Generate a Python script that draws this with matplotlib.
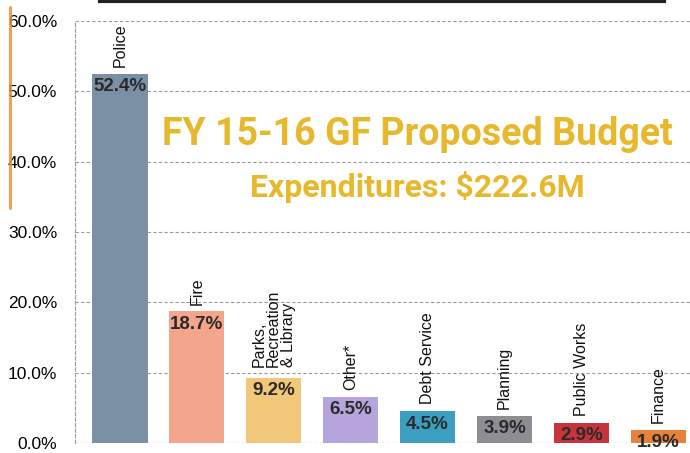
import matplotlib
matplotlib.use("Agg")
import matplotlib.pyplot as plt
from matplotlib.ticker import FuncFormatter

categories = ["Police", "Fire", "Parks,\nRecreation\n& Library", "Other*", "Debt Service",
              "Planning", "Public Works", "Finance"]
values = [52.4, 18.7, 9.2, 6.5, 4.5, 3.9, 2.9, 1.9]
colors = ["#7b8fa5", "#f3a68c", "#f1c87a", "#b5a5dc", "#3c9fbf", "#8e8d94", "#c8343c", "#e7813b"]
yticks = [0, 10, 20, 30, 40, 50, 60]
title = "FY 15-16 GF Proposed Budget"
subtitle = "Expenditures: $222.6M"

plt.rcParams["font.family"] = ["Liberation Sans", "DejaVu Sans"]

fig = plt.figure(figsize=(6.9, 4.53), dpi=100)
ax = fig.add_axes([0.109, 0.022, 0.891, 0.932])

x = range(len(categories))
bars = ax.bar(x, values, width=0.72, color=colors, zorder=3)

ax.set_ylim(0, 60)
ax.set_xlim(-0.58, 7.41)
ax.set_yticks(yticks)
ax.yaxis.set_major_formatter(FuncFormatter(lambda v, p: f"{v:.1f}%"))
ax.tick_params(axis="y", length=0, pad=13, labelsize=12.5)
ax.tick_params(axis="x", length=0, labelbottom=False)
ax.grid(axis="y", color="#9a9a9a", linestyle=(0, (3, 2)), linewidth=0.8, zorder=0)
for s in ["top", "right", "bottom"]:
    ax.spines[s].set_visible(False)
ax.spines["left"].set_linestyle((0, (3, 2)))
ax.spines["left"].set_color("#9a9a9a")
ax.spines["left"].set_linewidth(0.8)
ax.axhline(0, color="#9a9a9a", linestyle=(0, (3, 2)), linewidth=0.8, zorder=2)

for i, (v, b) in enumerate(zip(values, bars)):
    multi = "\n" in categories[i]
    ax.annotate(categories[i], (i, v), xytext=(0, 8 if multi else 5), textcoords="offset points",
                rotation=90, ha="center", va="bottom", fontsize=11.5,
                multialignment="left", color="#111111", linespacing=0.95)
    ax.annotate(f"{v:.1f}%", (i, v), xytext=(0, -3), textcoords="offset points",
                ha="center", va="top", fontsize=13.5, fontweight="bold", color="#2a2a2a",
                zorder=4)

fig.text(0.605, 0.702, title, ha="center", va="center", fontsize=27,
         fontweight="bold", color="#e8b82c", family=["Roboto", "DejaVu Sans"])
fig.text(0.605, 0.587, subtitle, ha="center", va="center", fontsize=23,
         fontweight="bold", color="#e8b82c", family=["Roboto", "DejaVu Sans"])

fig.add_artist(plt.Line2D([0.145, 0.963], [0.997, 0.997], color="#222222", linewidth=3,
                          transform=fig.transFigure))
fig.add_artist(plt.Line2D([0.014, 0.014], [0.985, 0.54], color="#ec8f3e", linewidth=2.2,
                          alpha=0.85, solid_capstyle="round", transform=fig.transFigure))

fig.savefig("out.png", dpi=100)
